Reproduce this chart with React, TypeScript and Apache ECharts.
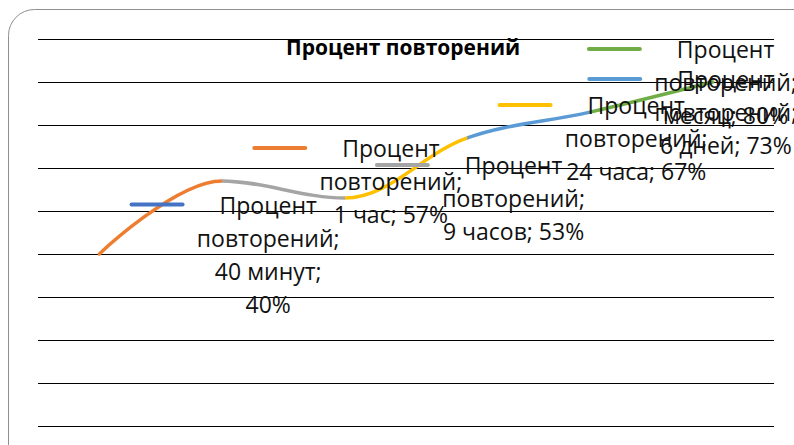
import React, { useEffect, useRef } from 'react';
import * as echarts from 'echarts';

// Series and category data
const seriesName = 'Процент повторений';
const categories = ['40 минут', '1 час', '9 часов', '24 часа', '6 дней', 'месяц'];
const values = [40, 57, 53, 67, 73, 80];
const pointColors = ['#4472C4', '#ED7D31', '#A5A5A5', '#FFC000', '#5B9BD5', '#70AD47'];

// Value axis range
const yMin = 0;
const yMax = 90;
const yInterval = 10;

// Horizontal shift of labels that would run past the right edge
const labelShiftX = [0, 0, 0, 0, -33, -156];

const FONT = '"Open Sans", "Noto Sans", sans-serif';

// Greedy word wrap by character count
function wrap(text: string, maxChars: number): string[] {
  const words = text.split(' ');
  const lines: string[] = [];
  let cur = '';
  for (const w of words) {
    if (!cur) cur = w;
    else if ((cur + ' ' + w).length <= maxChars) cur += ' ' + w;
    else {
      lines.push(cur);
      cur = w;
    }
  }
  if (cur) lines.push(cur);
  return lines;
}

export default function App() {
  const ref = useRef<HTMLDivElement>(null);

  useEffect(() => {
    if (!ref.current) return;
    const chart = echarts.init(ref.current, undefined, { renderer: 'svg' });

    const rich: Record<string, any> = {
      t: { fontFamily: FONT, fontSize: 23, lineHeight: 33, color: '#111', align: 'center' },
      g: { width: 35, height: 4, align: 'center' },
      s: { width: 90, height: 4, align: 'center' },
    };
    pointColors.forEach((c, i) => {
      rich['k' + i] = {
        width: 55,
        height: 4,
        backgroundColor: c,
        borderRadius: 2,
        align: 'center',
        verticalAlign: 'middle',
      };
    });

    const data = values.map((v, i) => ({
      value: v,
      label: { offset: [labelShiftX[i], 0] },
    }));

    chart.setOption({
      animation: false,
      backgroundColor: '#fff',
      title: {
        text: seriesName,
        left: 286,
        top: 35,
        padding: 0,
        textStyle: {
          fontFamily: FONT,
          fontSize: 21,
          fontWeight: 'bold',
          color: '#000',
          lineHeight: 23,
        },
      },
      graphic: [
        {
          type: 'rect',
          silent: true,
          z: -1,
          shape: { x: 8.5, y: 9.5, width: 812, height: 462, r: 26 },
          style: { fill: 'none', stroke: '#8f8f8f', lineWidth: 1 },
        },
      ],
      grid: { left: 38, right: 20, top: 39, bottom: 19, containLabel: false },
      xAxis: {
        type: 'category',
        data: categories,
        boundaryGap: true,
        axisLine: { show: false },
        axisTick: { show: false },
        axisLabel: { show: false },
      },
      yAxis: {
        type: 'value',
        min: yMin,
        max: yMax,
        interval: yInterval,
        axisLine: { show: false },
        axisTick: { show: false },
        axisLabel: { show: false },
        splitLine: { lineStyle: { color: '#000', width: 1 } },
      },
      visualMap: {
        show: false,
        type: 'piecewise',
        dimension: 0,
        seriesIndex: 0,
        pieces: [
          { lte: 1, color: pointColors[1] },
          { gt: 1, lte: 2, color: pointColors[2] },
          { gt: 2, lte: 3, color: pointColors[3] },
          { gt: 3, lte: 4, color: pointColors[4] },
          { gt: 4, color: pointColors[5] },
        ],
      },
      series: [
        {
          type: 'line',
          name: seriesName,
          data,
          smooth: 0.35,
          symbol: 'circle',
          symbolSize: 1,
          showSymbol: true,
          lineStyle: { width: 3.5, cap: 'round' },
          label: {
            show: true,
            position: 'right',
            distance: 7,
            rich,
            formatter: (p: any) => {
              const text = `${seriesName}; ${p.name}; ${p.value}%`;
              const lines = wrap(text, 12);
              return lines
                .map((l, idx) =>
                  idx === 0 ? `{k${p.dataIndex}|}{g|}{t|${l}}` : `{s|}{t|${l}}`
                )
                .join('\n');
            },
          },
        },
      ],
    });

    return () => chart.dispose();
  }, []);

  return (
    <div
      ref={ref}
      style={{ position: 'absolute', left: 0, top: 0, width: 794, height: 445 }}
    />
  );
}
